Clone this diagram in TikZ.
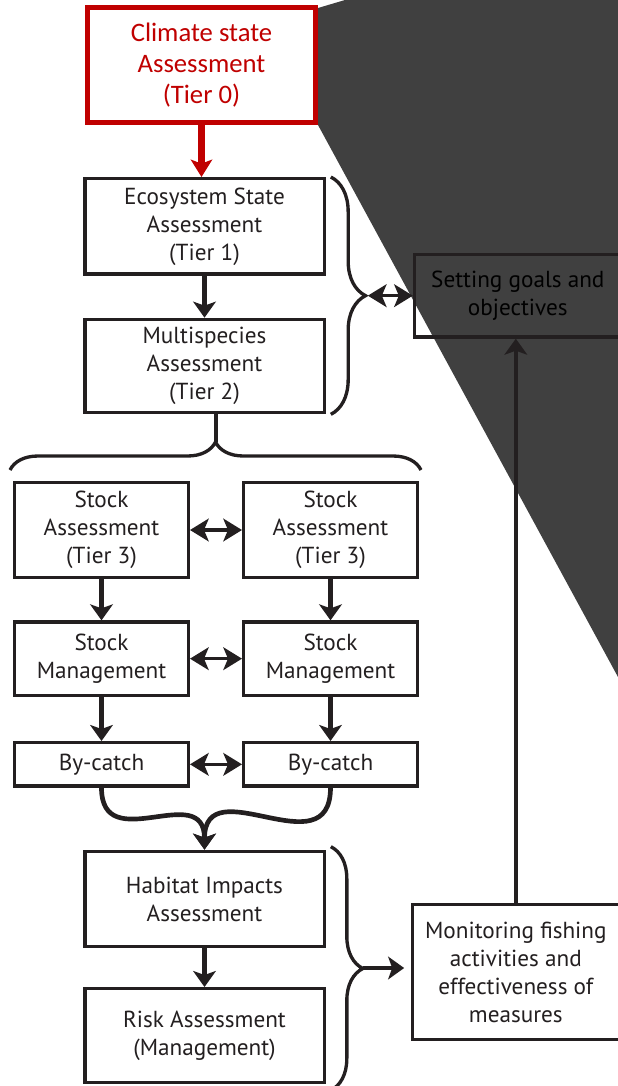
\documentclass[tikz,border=0pt]{standalone}
\usepackage{fontspec}
\setmainfont{PT Sans}
\newfontfamily\calibrifont{Carlito}
\usetikzlibrary{positioning, arrows.meta, decorations.pathreplacing, calc}
\definecolor{ink}{HTML}{231F20}
\definecolor{alert}{HTML}{C00000}
\definecolor{wedgegray}{HTML}{404040}

\begin{document}
\begin{tikzpicture}[x=0.75pt, y=-0.75pt,
  box/.style={rectangle, draw=ink, line width=2.5pt, fill=white, text=ink,
    align=center, inner sep=2pt, font=\fontsize{17.4}{21}\selectfont},
  colbox/.style={box, minimum width=179.5pt},
  sidebox/.style={box, minimum width=130.25pt},
  redbox/.style={box, draw=alert, text=alert, line width=3.75pt,
    minimum width=171pt, minimum height=86.25pt,
    font=\calibrifont\fontsize{20}{23.25}\selectfont},
  arr/.style={-{Stealth[length=12pt, width=17pt, inset=3pt]}, draw=ink, line width=3.5pt},
  redarr/.style={-{Stealth[length=13pt, width=16pt, inset=3pt]}, draw=alert, line width=5pt},
  dbl/.style={{Stealth[length=14pt, width=17pt, inset=3.5pt]}-{Stealth[length=14pt, width=17pt, inset=3.5pt]},
    draw=ink, line width=2.5pt},
  curly/.style={draw=ink, line width=2.5pt, decorate}
]
\clip (0,0) rectangle (618,1086);
\fill[wedgegray] (318,8) -- (345,0) -- (618,0) -- (618,677) -- (318,125) -- cycle;

% tier column
\node[redbox] (climate) at (201.5,65) {Climate state\\Assessment\\(Tier 0)};
\node[colbox, minimum height=71.5pt, below=39pt of climate, xshift=2.25pt] (eco)
  {Ecosystem State\\Assessment\\(Tier 1)};
\node[colbox, minimum height=70pt, below=31.5pt of eco] (multi)
  {Multispecies\\Assessment\\(Tier 2)};

% single stocks
\node[sidebox, minimum height=71pt, below=50pt of multi, xshift=-77.25pt] (sa1)
  {Stock\\Assessment\\(Tier 3)};
\node[sidebox, minimum height=71pt, right=39pt of sa1] (sa2)
  {Stock\\Assessment\\(Tier 3)};
\node[sidebox, minimum height=55pt, below=31pt of sa1] (sm1) {Stock\\Management};
\node[sidebox, minimum height=55pt, below=31pt of sa2] (sm2) {Stock\\Management};
\node[sidebox, minimum height=32.5pt, below=33pt of sm1] (bc1) {By-catch};
\node[sidebox, minimum height=32.5pt, below=33pt of sm2] (bc2) {By-catch};

\coordinate (merge) at (bc1.south -| multi.south);
\node[colbox, minimum height=71.5pt, below=46.5pt of merge] (habitat) {Habitat Impacts\\Assessment};
\node[colbox, minimum height=70.5pt, below=29pt of habitat] (risk)
  {Risk Assessment\\(Management)};

% braces and side boxes
\draw[curly, decoration={brace, amplitude=26pt}]
  ($(eco.north east)+(5,0)$) -- ($(multi.south east)+(5,0)$);
\coordinate (tierstip) at ($(eco.north east)!0.5!(multi.south east)+(42,0)$);
\node[box, fill=none, text=black, minimum width=155pt, minimum height=62pt, right=33.75pt of tierstip] (goals)
  {Setting goals and\\objectives};

\draw[curly, decoration={brace, amplitude=21pt}]
  ($(sa1.north west)+(-3,-11)$) -- ($(sa2.north east)+(2,-11)$);
\coordinate (fan) at ($(sa1.north west)!0.5!(sa2.north east)+(0,-39)$);

\draw[curly, decoration={brace, amplitude=24pt}]
  ($(habitat.north east)+(5,-3)$) -- ($(risk.south east)+(5,6)$);
\coordinate (impactstip) at ($(habitat.north east)!0.5!(risk.south east)+(37,1)$);
\node[box, minimum width=155pt, minimum height=101pt, right=36pt of impactstip, yshift=-3pt] (monitor)
  {Monitoring fishing\\activities and\\effectiveness of\\measures};

% connectors
\draw[redarr] (climate.south) -- (climate.south |- eco.north);
\draw[arr] (eco) -- (multi);
\draw[draw=ink, line width=2.5pt] (multi.south -| fan) -- (fan);
\draw[arr] (sa1) -- (sm1);
\draw[arr] (sa2) -- (sm2);
\draw[arr] (sm1) -- (bc1);
\draw[arr] (sm2) -- (bc2);
\draw[dbl] (sa1) -- (sa2);
\draw[dbl] (sm1) -- (sm2);
\draw[dbl] (bc1) -- (bc2);
\draw[arr] (bc1.south) to[out=-90, in=90, looseness=1.5] (habitat.north);
\draw[arr] (bc2.south) to[out=-90, in=90, looseness=1.5] (habitat.north);
\draw[arr] (habitat) -- (risk);
\draw[dbl] (tierstip) -- (goals.west);
\draw[arr, shorten >=5pt] (impactstip) -- (impactstip -| monitor.west);
\draw[arr] (monitor.north) -- (monitor.north |- goals.south);
\end{tikzpicture}
\end{document}
